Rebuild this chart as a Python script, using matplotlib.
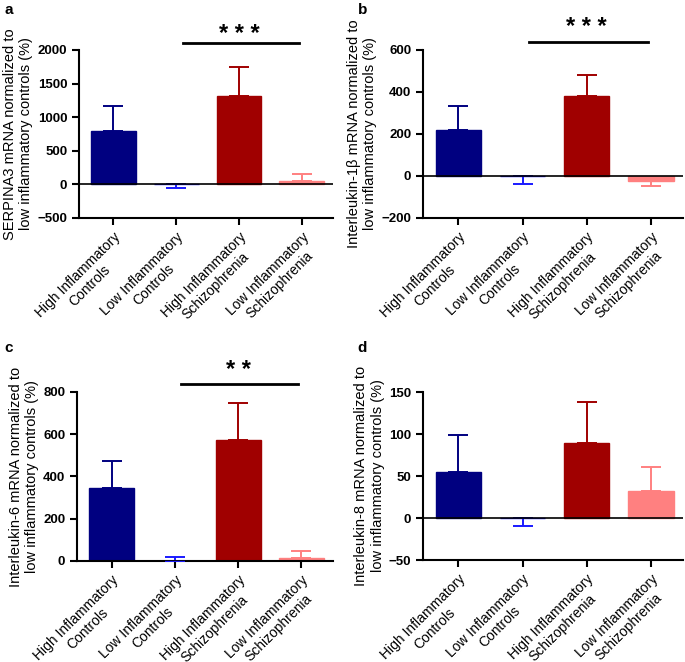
import matplotlib.pyplot as plt

plt.rcParams['font.family'] = ['Liberation Sans', 'DejaVu Sans']

# group labels and colours (same for every panel)
groups = ["High Inflammatory\nControls", "Low Inflammatory\nControls",
          "High Inflammatory\nSchizophrenia", "Low Inflammatory\nSchizophrenia"]
colors = ["#000080", "#1a1aff", "#a00000", "#ff8080"]

# panel a: SERPINA3
serpina3_mean = [800, 0, 1320, 50]
serpina3_err = [360, -50, 430, 100]

# panel b: IL-1beta
il1b_mean = [220, 0, 380, -25]
il1b_err = [112, -40, 100, -25]

# panel c: IL-6
il6_mean = [345, 2, 575, 15]
il6_err = [130, 18, 175, 30]

# panel d: IL-8
il8_mean = [55, 0, 89, 32]
il8_err = [44, -10, 49, 29]

panels = [
    ("a", serpina3_mean, serpina3_err, "SERPINA3 mRNA normalized to\nlow inflammatory controls (%)",
     (-500, 2000), [-500, 0, 500, 1000, 1500, 2000], "* * *", 2110, 2230),
    ("b", il1b_mean, il1b_err, "Interleukin-1\u03b2 mRNA normalized to\nlow inflammatory controls (%)",
     (-200, 600), [-200, 0, 200, 400, 600], "* * *", 638, 705),
    ("c", il6_mean, il6_err, "Interleukin-6 mRNA normalized to\nlow inflammatory controls (%)",
     (0, 800), [0, 200, 400, 600, 800], "* *", 840, 900),
    ("d", il8_mean, il8_err, "Interleukin-8 mRNA normalized to\nlow inflammatory controls (%)",
     (-50, 150), [-50, 0, 50, 100, 150], None, 0, 0),
]

positions = [
    [0.1153, 0.6707, 0.371, 0.2538],
    [0.6175, 0.6707, 0.3796, 0.2538],
    [0.1124, 0.1526, 0.3737, 0.2553],
    [0.6175, 0.1540, 0.3796, 0.2538],
]
letter_pos = [(0.006, 0.995), (0.522, 0.995), (0.006, 0.485), (0.522, 0.485)]

fig = plt.figure(figsize=(6.85, 6.62), dpi=100)

for i, (letter, mean, err, ylabel, ylim, yticks, stars, line_y, star_y) in enumerate(panels):
    ax = fig.add_axes(positions[i])
    x = list(range(len(groups)))
    for j in x:
        e = err[j]
        if e >= 0:
            yerr = [[0], [e]]
        else:
            yerr = [[-e], [0]]
        ax.bar(j, mean[j], width=0.71, color=colors[j], edgecolor=colors[j], zorder=2)
        ax.errorbar(j, mean[j], yerr=yerr, fmt='none', ecolor=colors[j],
                    elinewidth=1.4, capsize=7, capthick=1.4, zorder=3)

    ax.axhline(0, color='black', lw=1.2, zorder=4)
    ax.set_ylim(*ylim)
    ax.set_yticks(yticks)
    ax.set_xlim(-0.55, 3.5)
    ax.set_xticks(x)
    ax.set_xticklabels(groups, rotation=45, ha='right', va='top',
                       rotation_mode='anchor', multialignment='center', fontsize=10)
    for lbl in ax.get_yticklabels():
        lbl.set_fontweight('bold')
        lbl.set_fontsize(9.5)
    ax.set_ylabel(ylabel, fontsize=10.5, labelpad=3)
    for side in ['top', 'right']:
        ax.spines[side].set_visible(False)
    ax.spines['left'].set_linewidth(1.5)
    ax.spines['bottom'].set_linewidth(1.5)
    ax.tick_params(width=1.5, length=5)

    if stars:
        ax.plot([1.1, 2.95], [line_y, line_y], color='black', lw=2, clip_on=False)
        ax.text(2.0, star_y, stars, ha='center', va='center', fontsize=17,
                fontweight='bold', clip_on=False)

    fig.text(letter_pos[i][0], letter_pos[i][1], letter, fontsize=11,
             fontweight='bold', va='top')

fig.savefig("out.png", dpi=100)
